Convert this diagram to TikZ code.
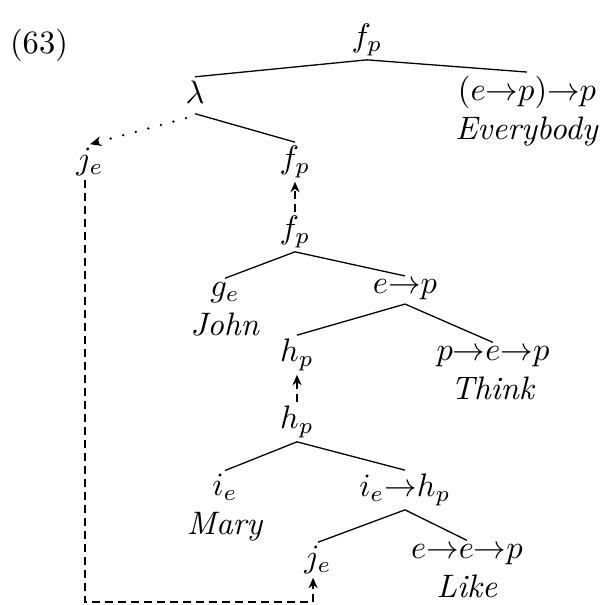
\documentclass[tikz,border=0pt]{standalone}
\usetikzlibrary{arrows.meta}
\begin{document}
\begin{tikzpicture}[x=0.3075pt,y=-0.3075pt,
  every node/.style={inner sep=1pt},
  lbl/.style={align=center},
  branch/.style={line width=0.4pt},
  dotline/.style={line width=0.8pt,line cap=round,dash pattern=on 0pt off 4pt,-{Stealth[length=3.5pt,width=3pt]}},
  dashline/.style={line width=0.4pt,dash pattern=on 2.4pt off 1.6pt,-{Stealth[length=3.2pt,width=2.8pt]}}]
\useasboundingbox (0,0) rectangle (605,605);
\node (n63) at (39,45) {(63)};
\node (fp1) at (367,40) {$f_p$};
\node (lam) at (195,92) {$\lambda$};
\node[lbl] (evp) at (527,111) {$(e{\to}p){\to}p$\\\textit{Everybody}};
\node (je1) at (90,162) {$j_e$};
\node (fp2) at (295,162) {$f_p$};
\node (fp3) at (295,232) {$f_p$};
\node[lbl] (gj) at (225,309) {$g_e$\\\textit{John}};
\node (ep) at (405,290) {$e{\to}p$};
\node (hp1) at (297,355) {$h_p$};
\node[lbl] (pep) at (493,373) {$p{\to}e{\to}p$\\\textit{Think}};
\node (hp2) at (297,422) {$h_p$};
\node[lbl] (im) at (225,508) {$i_e$\\\textit{Mary}};
\node (ieh) at (405,490) {$i_e{\to}h_p$};
\node (je2) at (318,560) {$j_e$};
\node[lbl] (eep) at (467,571) {$e{\to}e{\to}p$\\\textit{Like}};
\coordinate (corner) at (200,602);
\draw[branch] (fp1.south) -- (lam.north);
\draw[branch] (fp1.south) -- (evp.north);
\draw[branch] ([yshift=-2pt]lam.south) -- (fp2.north);
\draw[dotline] ([shift={(-9,11)}]lam.south) -- (je1.north);
\draw[dashline] (fp3.north) -- (fp2.south);
\draw[branch] (fp3.south) -- (gj.north);
\draw[branch] (fp3.south) -- (ep.north);
\draw[branch] (ep.south) -- (hp1.north);
\draw[branch] (ep.south) -- (pep.north);
\draw[dashline] (hp2.north) -- (hp1.south);
\draw[branch] (hp2.south) -- (im.north);
\draw[branch] (hp2.south) -- (ieh.north);
\draw[branch] (ieh.south) -- (je2.north);
\draw[branch] (ieh.south) -- (eep.north);
\draw[dashline] ([xshift=-1.5pt]je1.south) |- (corner) -| ([xshift=-1.5pt]je2.south);
\end{tikzpicture}
\end{document}
